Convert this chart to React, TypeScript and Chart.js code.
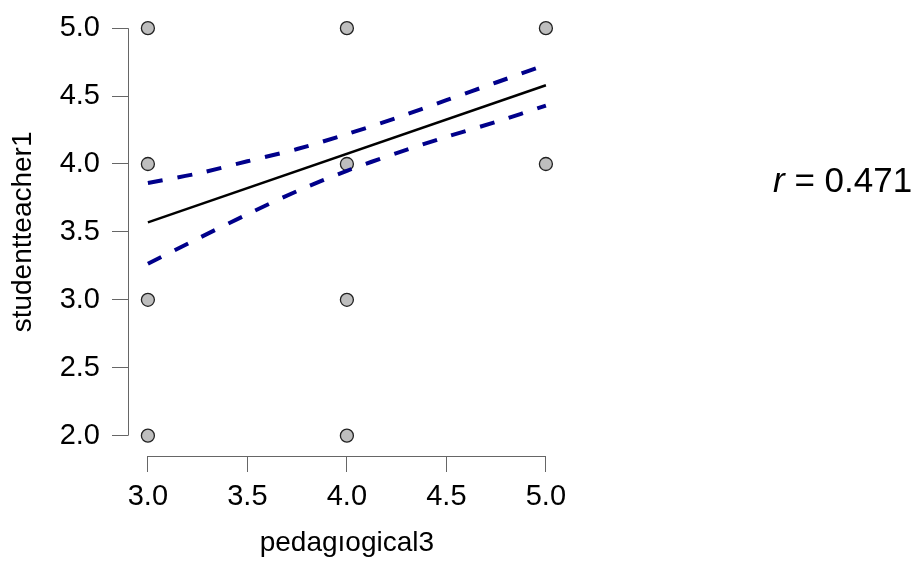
import React, { useEffect, useRef } from "react";
import { Chart, registerables } from "chart.js";

Chart.register(...registerables);

// observed points
const xValues = [3, 4, 5, 3, 4, 5, 3, 4, 3, 4];
const yValues = [5, 5, 5, 4, 4, 4, 3, 3, 2, 2];
// regression line
const fitX = [3, 5];
const fitY = [3.57, 4.58];
// confidence band
const ciX = [3, 3.25, 3.5, 3.75, 4, 4.25, 4.5, 4.75, 5];
const ciUpper = [3.86, 3.93, 4.02, 4.11, 4.22, 4.34, 4.47, 4.6, 4.73];
const ciLower = [3.265, 3.45, 3.63, 3.8, 3.95, 4.08, 4.2, 4.31, 4.43];
// ticks
const xTicks = [3, 3.5, 4, 4.5, 5];
const yTicks = [2, 2.5, 3, 3.5, 4, 4.5, 5];
const xTitle = "pedagıogical3";
const yTitle = "studentteacher1";
const rLabel = "r";
const rValue = " = 0.471";

const FONT = "'Liberation Sans', Arial, sans-serif";
const AXIS_COLOR = "#666666";

const axisPlugin = {
  id: "rAxes",
  afterDraw(chart: any) {
    const { ctx, chartArea, scales } = chart;
    const xs = scales.x;
    const ys = scales.y;
    ctx.save();
    ctx.strokeStyle = AXIS_COLOR;
    ctx.lineWidth = 1;
    const lx = Math.round(chartArea.left) + 0.5;
    ctx.beginPath();
    ctx.moveTo(lx, ys.getPixelForValue(yTicks[0]));
    ctx.lineTo(lx, ys.getPixelForValue(yTicks[yTicks.length - 1]));
    ctx.stroke();
    const by = Math.round(chartArea.bottom) + 0.5;
    ctx.beginPath();
    ctx.moveTo(xs.getPixelForValue(xTicks[0]), by);
    ctx.lineTo(xs.getPixelForValue(xTicks[xTicks.length - 1]), by);
    ctx.stroke();
    ctx.fillStyle = "#000";
    ctx.textBaseline = "alphabetic";
    ctx.textAlign = "left";
    const x0 = 773;
    const y0 = 192;
    ctx.font = `italic 35px ${FONT}`;
    ctx.fillText(rLabel, x0, y0);
    const w = ctx.measureText(rLabel).width;
    ctx.font = `35px ${FONT}`;
    ctx.fillText(rValue, x0 + w, y0);
    ctx.restore();
  },
};

export default function App() {
  const ref = useRef<HTMLCanvasElement | null>(null);
  useEffect(() => {
    if (!ref.current) return;
    const chart = new Chart(ref.current, {
      type: "scatter",
      data: {
        datasets: [
          {
            label: "fit",
            data: fitX.map((x, i) => ({ x, y: fitY[i] })),
            showLine: true,
            borderColor: "#000000",
            borderWidth: 2.5,
            pointRadius: 0,
          },
          {
            label: "upper",
            data: ciX.map((x, i) => ({ x, y: ciUpper[i] })),
            showLine: true,
            borderColor: "#00008B",
            borderWidth: 4,
            borderDash: [15, 15],
            pointRadius: 0,
            tension: 0.3,
          },
          {
            label: "lower",
            data: ciX.map((x, i) => ({ x, y: ciLower[i] })),
            showLine: true,
            borderColor: "#00008B",
            borderWidth: 4,
            borderDash: [15, 15],
            pointRadius: 0,
            tension: 0.3,
          },
          {
            label: "points",
            data: xValues.map((x, i) => ({ x, y: yValues[i] })),
            backgroundColor: "#BEBEBE",
            borderColor: "#222222",
            borderWidth: 1.3,
            pointRadius: 6.5,
          },
        ],
      },
      options: {
        animation: false,
        responsive: false,
        devicePixelRatio: 1,
        events: [],
        layout: { padding: { top: 3.9, right: 349.2, bottom: 0, left: 0 } },
        plugins: { legend: { display: false }, tooltip: { enabled: false } },
        scales: {
          x: {
            type: "linear",
            min: 2.9,
            max: 5.1,
            afterBuildTicks: (s: any) => {
              s.ticks = xTicks.map((v) => ({ value: v }));
            },
            afterFit: (s: any) => {
              s.height = 105;
              s.paddingLeft = 0;
              s.paddingRight = 0;
            },
            border: { display: false },
            grid: {
              drawOnChartArea: false,
              drawTicks: true,
              tickLength: 16,
              color: AXIS_COLOR,
              lineWidth: 1,
            },
            ticks: {
              color: "#000",
              font: { family: FONT, size: 29 },
              padding: 8,
              maxRotation: 0,
              callback: (v: any) => Number(v).toFixed(1),
            },
            title: {
              display: true,
              text: xTitle,
              color: "#000",
              font: { family: FONT, size: 28 },
              padding: { top: 0, bottom: 1 },
            },
          },
          y: {
            type: "linear",
            min: 1.85,
            max: 5.15,
            afterBuildTicks: (s: any) => {
              s.ticks = yTicks.map((v) => ({ value: v }));
            },
            afterFit: (s: any) => {
              s.width = 128;
              s.paddingTop = 0;
              s.paddingBottom = 0;
            },
            border: { display: false },
            grid: {
              drawOnChartArea: false,
              drawTicks: true,
              tickLength: 16,
              color: AXIS_COLOR,
              lineWidth: 1,
            },
            ticks: {
              color: "#000",
              font: { family: FONT, size: 29 },
              padding: 12,
              callback: (v: any) => Number(v).toFixed(1),
            },
            title: {
              display: true,
              text: yTitle,
              color: "#000",
              font: { family: FONT, size: 28 },
              padding: { top: 6.5, bottom: 0 },
            },
          },
        },
      },
      plugins: [axisPlugin],
    });
    return () => chart.destroy();
  }, []);
  return (
    <div style={{ position: "fixed", left: 0, top: 0, width: 915, height: 561, background: "#fff" }}>
      <canvas ref={ref} width={915} height={561} style={{ width: 915, height: 561 }} />
    </div>
  );
}
